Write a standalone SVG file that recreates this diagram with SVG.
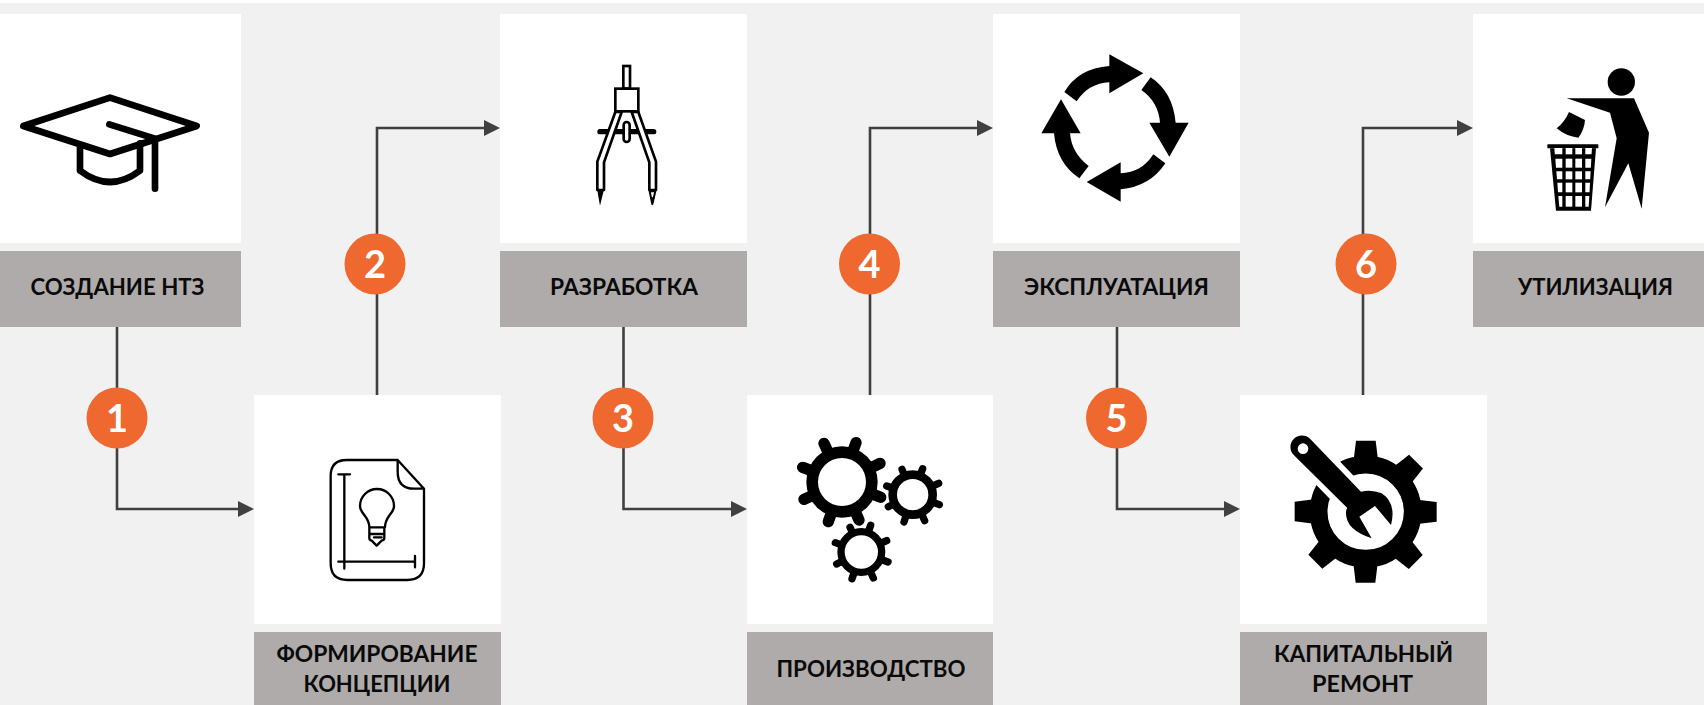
<svg xmlns="http://www.w3.org/2000/svg" width="1704" height="705" viewBox="0 0 1704 705">
<style>
.card{fill:#fff}
.lab{fill:#afabaa}
.t{font-family:Lato,"Open Sans","Noto Sans",Arial,sans-serif;font-weight:700;font-size:22px;fill:#0a0a0a;text-anchor:middle}
.n{font-family:Lato,"Open Sans","Noto Sans",Arial,sans-serif;font-weight:700;font-size:38px;fill:#fff;text-anchor:middle}
.badge{fill:#ee6830}
.c{fill:none;stroke:#404040;stroke-width:2.6;marker-end:url(#arr)}
.o{fill:none;stroke:#000;stroke-linecap:round;stroke-linejoin:round}
.k{fill:#000}
.w{fill:#fff}
</style>
<defs>
<marker id="arr" markerUnits="userSpaceOnUse" markerWidth="16" markerHeight="16" refX="6" refY="8" orient="auto"><path d="M0 0L16 8L0 16Z" fill="#404040"/></marker>
</defs>
<rect width="1704" height="705" fill="#f1f1f1"/>
<rect width="1704" height="3" fill="#fff"/>

<g id="connectors">
<path class="c" d="M117 327V509H244"/>
<path class="c" d="M377 395V128H490"/>
<path class="c" d="M623.500 327V509H737"/>
<path class="c" d="M870 395V128H983"/>
<path class="c" d="M1117 327V509H1230"/>
<path class="c" d="M1363 395V128H1463"/>
</g>

<g id="node-sozdanie">
<rect class="card" x="0" y="14" width="241" height="229"/>
<rect class="lab" x="0" y="251" width="241" height="76"/>
<text class="t" x="117.500" y="295" textLength="174" lengthAdjust="spacingAndGlyphs">СОЗДАНИЕ НТЗ</text>
<g transform="scale(.33333)">
<path class="o" stroke-width="20" d="M70 378L330 293L590 378L330 462Z"/>
<path class="o" stroke-width="20" d="M328 373L465 416V566M240 442V512Q330 580 420 512V430"/>
</g>
</g>

<g id="node-koncepciya">
<rect class="card" x="254" y="395" width="247" height="229"/>
<rect class="lab" x="254" y="632" width="247" height="73"/>
<text class="t" x="377" y="662" textLength="201" lengthAdjust="spacingAndGlyphs">ФОРМИРОВАНИЕ</text>
<text class="t" x="377" y="692" textLength="147" lengthAdjust="spacingAndGlyphs">КОНЦЕПЦИИ</text>
<g transform="translate(250 390) scale(.33333)">
<path class="o" stroke-width="7" d="M443 210H290Q242 210 242 258V520Q242 570 292 570H472Q522 570 522 520V296ZM443 210V245Q443 296 492 296H522"/>
<path class="o" stroke-width="7" d="M265 253H300M283 253V536M265 515H495M495 498V532"/>
<path class="o" stroke-width="7" d="M358 412Q358 395 345 378Q330 360 330 348A51 51 0 1 1 432 348Q432 360 417 378Q405 395 405 412ZM358 412V445Q358 450 365 452L380 467L395 452Q403 450 403 445V412M358 432H403M372 442H395"/>
</g>
</g>

<g id="node-razrabotka">
<rect class="card" x="500" y="14" width="247" height="229"/>
<rect class="lab" x="500" y="251" width="247" height="76"/>
<text class="t" x="624" y="295" textLength="148" lengthAdjust="spacingAndGlyphs">РАЗРАБОТКА</text>
<g transform="translate(520 0) scale(.33333)">
<rect class="k" x="232" y="387" width="177" height="16" rx="8"/>
<rect x="310" y="198" width="20" height="68" fill="#fff" stroke="#000" stroke-width="8"/>
<rect x="286" y="266" width="69" height="68" fill="#fff" stroke="#000" stroke-width="8"/>
<path fill="#fff" stroke="#000" stroke-width="8" stroke-linejoin="round" d="M286 336L232 485V570H252V487L305 336Z"/>
<path fill="#fff" stroke="#000" stroke-width="8" stroke-linejoin="round" d="M355 336L408 485V570H388V487L335 336Z"/>
<rect x="311" y="366" width="18" height="60" rx="9" fill="#fff" stroke="#000" stroke-width="8"/>
<path class="k" d="M232 572H251L240 617Z"/>
<path fill="#fff" stroke="#000" stroke-width="6" stroke-linejoin="round" d="M389 574H406L397 612Z"/>
<path class="k" d="M391 592H404L397 617Z"/>
</g>
</g>

<g id="node-proizvodstvo">
<rect class="card" x="747" y="395" width="246" height="229"/>
<rect class="lab" x="747" y="632" width="246" height="73"/>
<text class="t" x="871" y="677" textLength="189" lengthAdjust="spacingAndGlyphs">ПРОИЗВОДСТВО</text>
<g transform="translate(760 410) scale(.33333)">
<path class="o" stroke-width="34" d="M246 216L192 100M246 216L288 98M246 216L360 160M246 216L128 172M246 216L132 268M246 216L362 262M246 216L205 335M246 216L297 330"/>
<circle class="k" cx="246" cy="216" r="107"/><circle class="w" cx="246" cy="216" r="72"/>
<path class="o" stroke-width="22" d="M458 254L426 178M458 254L488 176M458 254L536 220M458 254L380 228M458 254L385 290M458 254L538 284M458 254L432 336M458 254L494 332"/>
<circle class="k" cx="458" cy="254" r="73"/><circle class="w" cx="458" cy="254" r="47"/>
<path class="o" stroke-width="22" d="M304 426L270 352M304 426L332 346M304 426L380 392M304 426L226 398M304 426L230 462M304 426L384 456M304 426L276 506M304 426L340 504"/>
<circle class="k" cx="304" cy="426" r="72"/><circle class="w" cx="304" cy="426" r="50"/>
</g>
</g>

<g id="node-ekspluataciya">
<rect class="card" x="993" y="14" width="247" height="229"/>
<rect class="lab" x="993" y="251" width="247" height="76"/>
<text class="t" x="1116.500" y="295" textLength="185" lengthAdjust="spacingAndGlyphs">ЭКСПЛУАТАЦИЯ</text>
<g transform="translate(1010 30) scale(.33333)">
<path class="k" d="M163 186Q205 115 298 108V73L400 130L298 190V157Q235 160 200 214Z"/>
<path class="k" d="M422 142Q488 185 497 278H536L478 380L418 278H450Q445 215 394 180Z"/>
<path class="k" d="M466 400Q420 470 332 478V515L230 456L332 397V430Q395 428 430 373Z"/>
<path class="k" d="M208 445Q140 400 132 310H94L153 208L212 310H180Q185 370 236 408Z"/>
</g>
</g>

<g id="node-remont">
<rect class="card" x="1240" y="395" width="247" height="229"/>
<rect class="lab" x="1240" y="632" width="247" height="73"/>
<text class="t" x="1363.500" y="662" textLength="179" lengthAdjust="spacingAndGlyphs">КАПИТАЛЬНЫЙ</text>
<text class="t" x="1362.500" y="692" textLength="101" lengthAdjust="spacingAndGlyphs">РЕМОНТ</text>
<g transform="translate(1260 410) scale(.33333)">
<circle cx="317" cy="305" r="141" fill="none" stroke="#000" stroke-width="53"/>
<g class="k">
<path d="M288 92H347L354 150H281Z"/>
<path d="M288 92H347L354 150H281Z" transform="rotate(45 317 305)"/>
<path d="M288 92H347L354 150H281Z" transform="rotate(90 317 305)"/>
<path d="M288 92H347L354 150H281Z" transform="rotate(135 317 305)"/>
<path d="M288 92H347L354 150H281Z" transform="rotate(180 317 305)"/>
<path d="M288 92H347L354 150H281Z" transform="rotate(225 317 305)"/>
<path d="M288 92H347L354 150H281Z" transform="rotate(270 317 305)"/>
</g>
<path d="M100 130L258 292L300 360L393 345Q410 280 365 250Q335 238 303 245L150 85Z" fill="#fff" stroke="#fff" stroke-width="34" stroke-linejoin="round"/>
<path class="k" fill-rule="evenodd" d="M102 136A33 33 0 0 1 150 86L303 245Q335 238 365 250Q410 280 393 345L345 288L298 320L335 385Q258 360 258 310Q257 300 262 294ZM129 116m-16 0a16 16 0 1 0 32 0a16 16 0 1 0-32 0Z"/>
</g>
</g>

<g id="node-utilizaciya">
<rect class="card" x="1473" y="14" width="231" height="229"/>
<rect class="lab" x="1473" y="251" width="231" height="76"/>
<text class="t" x="1595.500" y="295" textLength="155" lengthAdjust="spacingAndGlyphs">УТИЛИЗАЦИЯ</text>
<g transform="translate(1500 40) scale(.33333)">
<circle class="k" cx="364" cy="126" r="41"/>
<path class="k" d="M200 175L402 175L447 278L425 506L385 370L315 502L350 295L330 218Z"/>
<path class="k" d="M207 216L255 240Q253 270 235 293Q200 290 170 265Q195 245 207 216Z"/>
<rect class="k" x="142" y="313" width="153" height="12" rx="2"/>
<path class="k" d="M150 325H288L273 512H168Z"/>
<g class="w">
<path d="M163 324H187V343H164.500Z"/><rect x="197" y="324" width="20" height="19"/><rect x="226" y="324" width="20" height="19"/><path d="M256 324H276L274.500 343H256Z"/>
<path d="M166 356H187V383H168Z"/><rect x="197" y="356" width="20" height="27"/><rect x="226" y="356" width="20" height="27"/><path d="M256 356H274L272.500 383H256Z"/>
<path d="M169 394H187V418H171Z"/><rect x="197" y="394" width="20" height="24"/><rect x="226" y="394" width="20" height="24"/><path d="M256 394H272L270.500 418H256Z"/>
<path d="M172 428H187V457H174Z"/><rect x="197" y="428" width="20" height="29"/><rect x="226" y="428" width="20" height="29"/><path d="M256 428H270L268.500 457H256Z"/>
<path d="M175 468H187V500H178Z"/><rect x="197" y="468" width="20" height="32"/><rect x="226" y="468" width="20" height="32"/><path d="M256 468H268L266 500H256Z"/>
</g>
</g>
</g>

<g id="badge-1"><circle class="badge" cx="117" cy="418" r="30.500"/><text class="n" x="117" y="432">1</text></g>
<g id="badge-2"><circle class="badge" cx="375" cy="264" r="30.500"/><text class="n" x="375" y="278">2</text></g>
<g id="badge-3"><circle class="badge" cx="623" cy="418" r="30.500"/><text class="n" x="623" y="432">3</text></g>
<g id="badge-4"><circle class="badge" cx="869.500" cy="264" r="30.500"/><text class="n" x="869.500" y="278">4</text></g>
<g id="badge-5"><circle class="badge" cx="1116.500" cy="418" r="30.500"/><text class="n" x="1116.500" y="432">5</text></g>
<g id="badge-6"><circle class="badge" cx="1366" cy="264" r="30.500"/><text class="n" x="1366" y="278">6</text></g>
</svg>
